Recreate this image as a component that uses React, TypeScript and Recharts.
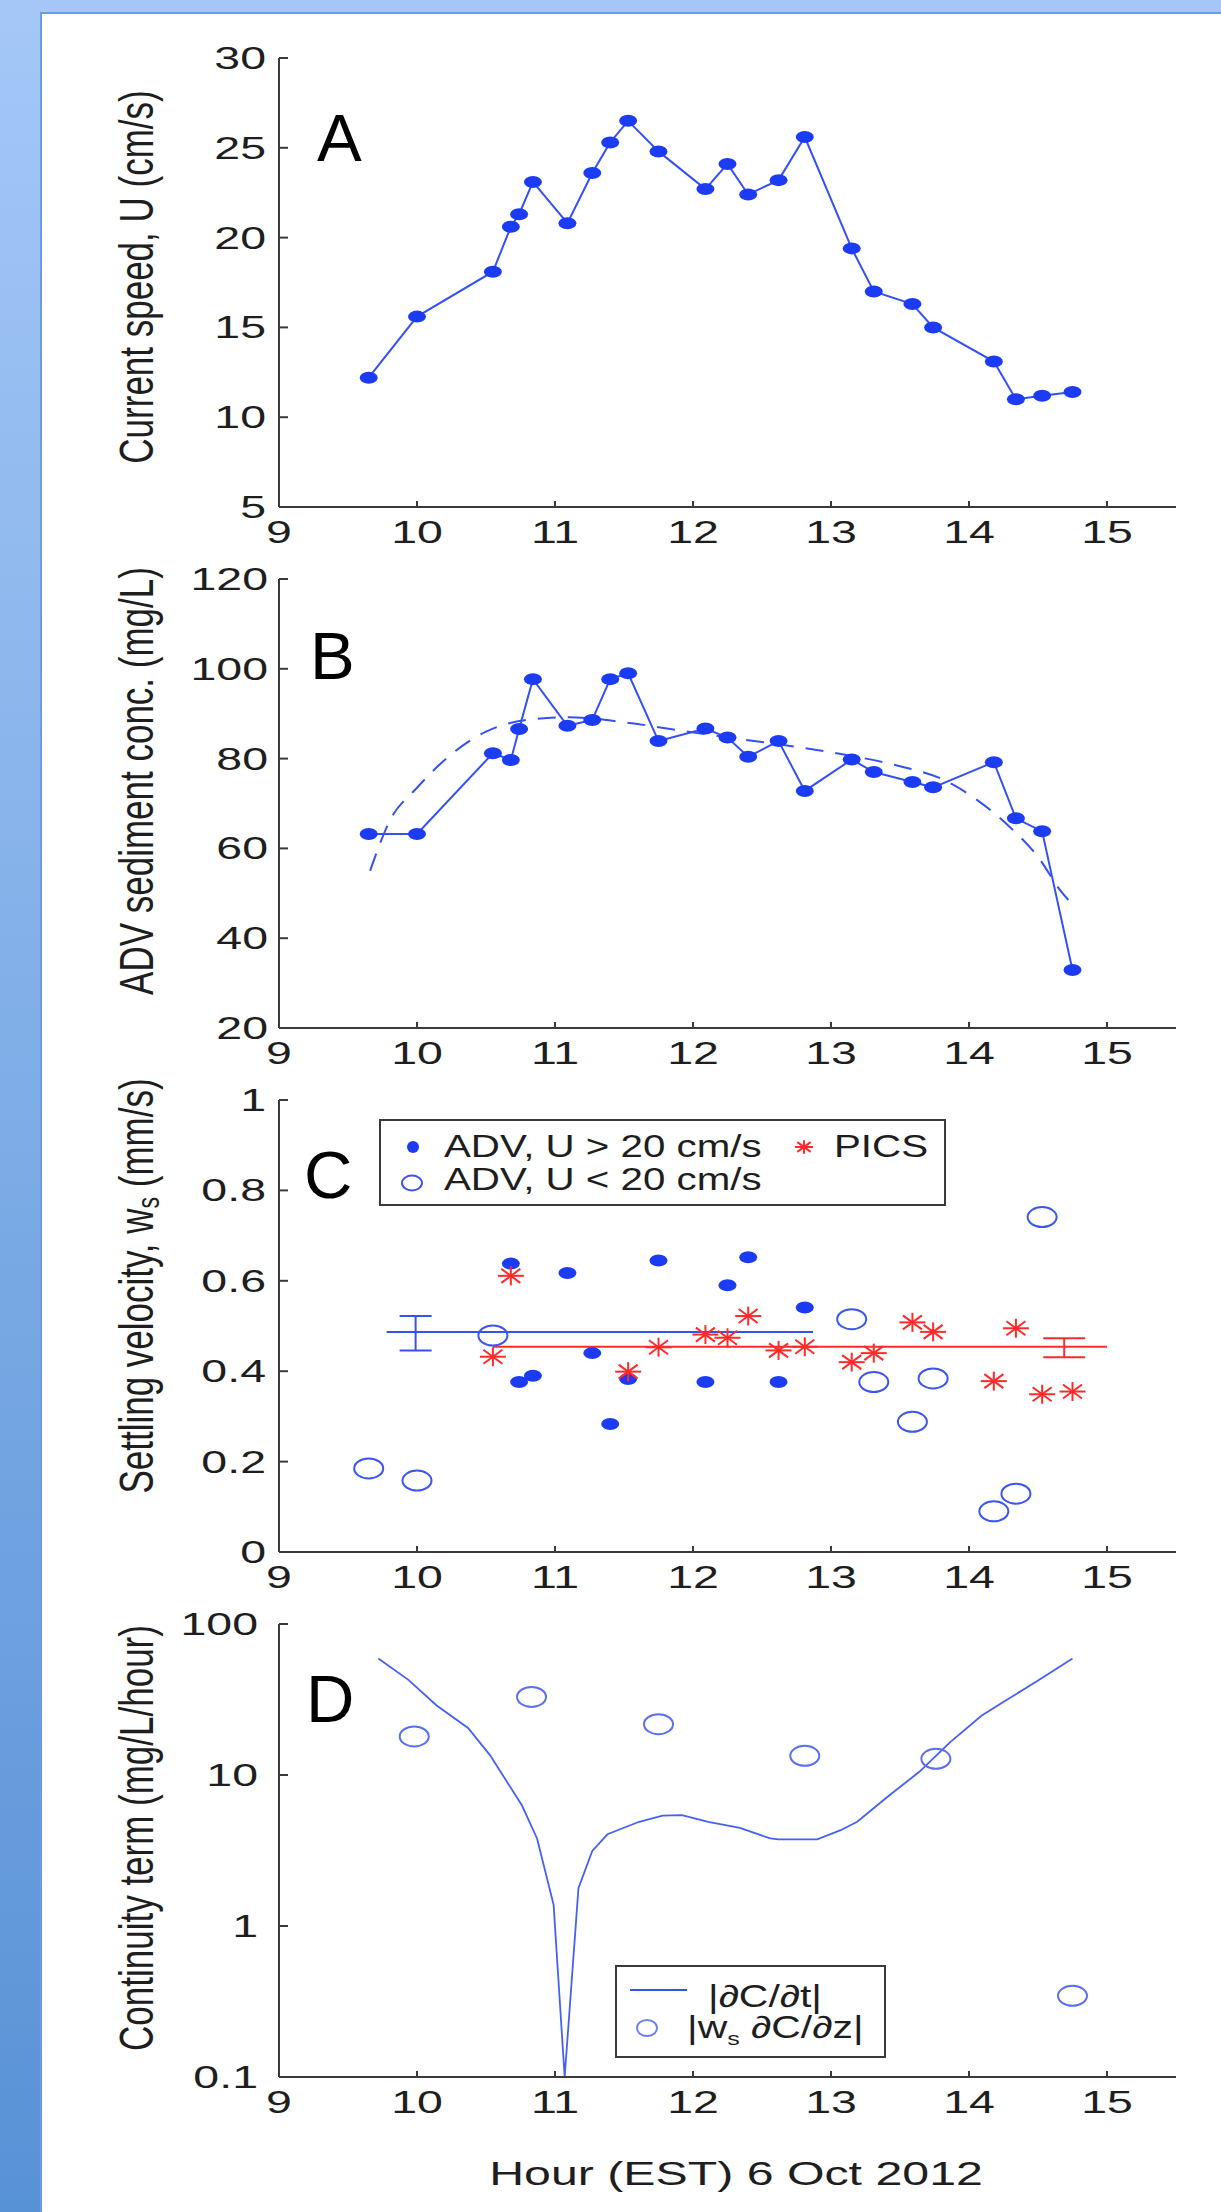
import React from "react";
import { ComposedChart, Line, Scatter, XAxis, YAxis, ErrorBar, Legend } from "recharts";

// shared sampling times (hour EST)
const hours = [9.65, 10.0, 10.55, 10.68, 10.74, 10.84, 11.09, 11.27, 11.4, 11.53, 11.75, 12.09, 12.25, 12.4, 12.62, 12.81, 13.15, 13.31, 13.59, 13.74, 14.18, 14.34, 14.53, 14.75];
// A: current speed (cm/s)
const speed = [12.2, 15.6, 18.1, 20.6, 21.3, 23.1, 20.8, 23.6, 25.3, 26.5, 24.8, 22.7, 24.1, 22.4, 23.2, 25.6, 19.4, 17.0, 16.3, 15.0, 13.1, 11.0, 11.2, 11.4];
// B: ADV sediment concentration (mg/L) and the dashed fit
const conc = [63.2, 63.2, 81.2, 79.7, 86.6, 97.7, 87.3, 88.6, 97.7, 99.0, 83.9, 86.7, 84.7, 80.4, 83.9, 72.8, 79.8, 77.0, 74.8, 73.6, 79.2, 66.7, 63.8, 32.9];
const fitHours = [9.66, 9.8, 10.0, 10.25, 10.5, 10.85, 11.1, 11.5, 11.9, 12.35, 12.62, 13.04, 13.5, 13.8, 14.03, 14.28, 14.5, 14.67, 14.72];
const fitConc = [55, 66, 73.5, 81, 86, 88.8, 89.2, 88.1, 86.3, 84.3, 83.2, 81.2, 78.3, 75.5, 71.4, 65.2, 58.1, 50.3, 48.5];
// C: settling velocity (mm/s)
const fastHours = [10.68, 10.74, 10.84, 11.09, 11.27, 11.4, 11.53, 11.75, 12.09, 12.25, 12.4, 12.62, 12.81];
const fastWs = [0.638, 0.376, 0.39, 0.617, 0.44, 0.283, 0.383, 0.645, 0.376, 0.59, 0.652, 0.376, 0.541];
const slowHours = [9.65, 10.0, 10.55, 13.15, 13.31, 13.59, 13.74, 14.18, 14.34, 14.53];
const slowWs = [0.185, 0.158, 0.479, 0.515, 0.376, 0.288, 0.384, 0.09, 0.129, 0.741];
const picsHours = [10.55, 10.68, 11.53, 11.75, 12.09, 12.25, 12.4, 12.62, 12.81, 13.15, 13.31, 13.59, 13.74, 14.18, 14.34, 14.53, 14.75];
const picsWs = [0.432, 0.611, 0.399, 0.453, 0.481, 0.474, 0.522, 0.446, 0.454, 0.42, 0.44, 0.508, 0.487, 0.378, 0.495, 0.349, 0.355];
const fastMeanHours = [9.78, 12.87];
const fastMean = [0.487, 0.487];
const picsMeanHours = [10.55, 15.0];
const picsMean = [0.454, 0.454];
const errHours = [9.99, 14.69];
const errMid = [0.487, 0.453];
const errLow = [0.446, 0.431];
const errHigh = [0.522, 0.473];
// D: continuity terms (mg/L/hour)
const rateHours = [9.72, 9.94, 10.14, 10.37, 10.53, 10.76, 10.87, 10.99, 11.07, 11.17, 11.27, 11.38, 11.61, 11.78, 11.92, 12.11, 12.34, 12.56, 12.62, 12.9, 13.07, 13.19, 13.41, 13.64, 13.86, 14.09, 14.26, 14.48, 14.6, 14.75];
const rate = [59, 42.5, 29, 20.5, 13.5, 6.3, 3.8, 1.38, 0.1, 1.78, 3.14, 4.05, 4.9, 5.39, 5.42, 4.9, 4.46, 3.8, 3.75, 3.75, 4.31, 4.9, 7.18, 10.5, 16.4, 24.7, 30.9, 41.1, 48.2, 59];
const fluxHours = [9.98, 10.83, 11.75, 12.81, 13.76, 14.75];
const flux = [18.0, 32.9, 21.7, 13.4, 12.8, 0.345];

// ticks
const hourTicks = [9, 10, 11, 12, 13, 14, 15];
const speedTicks = [5, 10, 15, 20, 25, 30];
const concTicks = [20, 40, 60, 80, 100, 120];
const wsTicks = [0, 0.2, 0.4, 0.6, 0.8, 1];
const logTicks = [0.1, 1, 10, 100];
const logMinor = [0.2, 0.3, 0.4, 0.5, 0.6, 0.7, 0.8, 0.9, 2, 3, 4, 5, 6, 7, 8, 9, 20, 30, 40, 50, 60, 70, 80, 90];

const FONT = "'Liberation Sans', Arial, Helvetica, sans-serif";
const INK = "#1e1e1e";
const FRAME = "#3a3a3a";
const BLUE = "#1b3cf4";
const BLUE_LINE = "#3551f3";
const RING = "#3d56f0";
const RED = "#ff2a2a";

const toPoints = (xs: number[], ys: number[]) => xs.map((h, i) => ({ h, v: ys[i] }));

const W = 1221;
const margin = (top: number) => ({ top, right: 45, bottom: 0, left: 199 });

function BottomTick({ x = 0, y = 0, payload }: any) {
  return (
    <g>
      <line x1={x} y1={y} x2={x} y2={y - 6} stroke={FRAME} strokeWidth={2} />
      <g transform={`translate(${x},${y + 36}) scale(1.5,1)`}>
        <text textAnchor="middle" fontSize={31} fontFamily={FONT} fill={INK}>{payload.value}</text>
      </g>
    </g>
  );
}

function TopTick({ x = 0, y = 0 }: any) {
  return <line x1={x} y1={y} x2={x} y2={y + 6} stroke={FRAME} strokeWidth={2} />;
}

const leftTick = (gap: number) => ({ x = 0, y = 0, payload }: any) => (
  <g>
    <line x1={x} y1={y} x2={x + 9} y2={y} stroke={FRAME} strokeWidth={2} />
    <g transform={`translate(${x - gap},${y + 11}) scale(1.5,1)`}>
      <text textAnchor="end" fontSize={31} fontFamily={FONT} fill={INK}>{String(payload.value)}</text>
    </g>
  </g>
);

const rightTick = (majors: number[]) => ({ x = 0, y = 0, payload }: any) => (
  <line x1={x} y1={y} x2={x - (majors.includes(payload.value) ? 9 : 5)} y2={y} stroke={FRAME} strokeWidth={majors.includes(payload.value) ? 2 : 1.5} />
);

// y title and panel letter, given in page coordinates and shifted by the chart's top
function SideTitle({ base, cy, letter, lx, ly, children }: any) {
  return (
    <g>
      <g transform={`translate(136,${cy - base}) scale(1.4,1) rotate(-90)`}>
        <text textAnchor="middle" dominantBaseline="central" fontSize={35} fontFamily={FONT} fill={INK}>{children}</text>
      </g>
      <text x={lx} y={ly - base} fontSize={67} fontFamily={FONT} fill="#000">{letter}</text>
    </g>
  );
}

function frame(domain: number[], ticks: number[], gap: number, title: React.ReactNode, opts: any = {}) {
  const axisLine = { stroke: FRAME, strokeWidth: 2 };
  return [
    <XAxis key="xb" type="number" dataKey="h" domain={[9, 15.5]} ticks={hourTicks} interval={0} height={opts.xHeight || 50}
      tickSize={0} tickMargin={0} tickLine={false} axisLine={axisLine} tick={BottomTick} allowDataOverflow
      label={opts.xLabel} />,
    <XAxis key="xt" xAxisId="t" orientation="top" type="number" domain={[9, 15.5]} ticks={hourTicks} interval={0} height={0}
      tickSize={0} tickMargin={0} tickLine={false} axisLine={axisLine} tick={TopTick} allowDataOverflow />,
    <YAxis key="yl" type="number" dataKey="v" domain={domain} ticks={ticks} interval={0} width={80} scale={opts.scale || "auto"}
      tickSize={0} tickMargin={0} tickLine={false} axisLine={axisLine} tick={leftTick(gap)} allowDataOverflow
      label={() => title} />,
    <YAxis key="yr" yAxisId="r" orientation="right" type="number" domain={domain} ticks={opts.rightTicks || ticks} interval={0} width={0}
      scale={opts.scale || "auto"} tickSize={0} tickMargin={0} tickLine={false} axisLine={axisLine} tick={rightTick(ticks)} allowDataOverflow />,
  ];
}

const dotShape = (p: any) => <ellipse key={`d${p.index}`} cx={p.cx} cy={p.cy} rx={9} ry={6} fill={BLUE} />;
const ringShape = (color: string) => (p: any) => <ellipse cx={p.cx} cy={p.cy} rx={14.5} ry={10} fill="none" stroke={color} strokeWidth={2} />;

function Star({ cx, cy, s = 1 }: any) {
  const w = 13 * s, h = 9.5 * s, dx = 9.5 * s, dy = 7 * s;
  return (
    <g stroke={RED} strokeWidth={2}>
      <line x1={cx - w} y1={cy} x2={cx + w} y2={cy} />
      <line x1={cx} y1={cy - h} x2={cx} y2={cy + h} />
      <line x1={cx - dx} y1={cy - dy} x2={cx + dx} y2={cy + dy} />
      <line x1={cx - dx} y1={cy + dy} x2={cx + dx} y2={cy - dy} />
    </g>
  );
}

function LegendC() {
  return (
    <svg width={567} height={87} style={{ display: "block" }}>
      <rect x={1} y={1} width={565} height={85} fill="#fff" stroke={FRAME} strokeWidth={2} />
      <ellipse cx={34} cy={28} rx={6} ry={6} fill={BLUE} />
      <g transform="translate(65,38) scale(1.3,1)">
        <text fontSize={31} fontFamily={FONT} fill={INK}>ADV, U &gt; 20 cm/s</text>
      </g>
      <Star cx={425} cy={28} s={0.7} />
      <g transform="translate(455,38) scale(1.3,1)">
        <text fontSize={31} fontFamily={FONT} fill={INK}>PICS</text>
      </g>
      <ellipse cx={33} cy={64} rx={10} ry={7.5} fill="none" stroke={RING} strokeWidth={2} />
      <g transform="translate(65,71) scale(1.3,1)">
        <text fontSize={31} fontFamily={FONT} fill={INK}>ADV, U &lt; 20 cm/s</text>
      </g>
    </svg>
  );
}

function LegendD() {
  return (
    <svg width={271} height={93} style={{ display: "block" }}>
      <rect x={1} y={1} width={269} height={91} fill="#fff" stroke={FRAME} strokeWidth={2} />
      <line x1={15} y1={25} x2={72} y2={25} stroke={BLUE_LINE} strokeWidth={2} />
      <g transform="translate(93,42) scale(1.32,1)">
        <text fontSize={31} fontFamily={FONT} fill={INK}>|∂C/∂t|</text>
      </g>
      <ellipse cx={32} cy={63} rx={10} ry={8} fill="none" stroke="#6f80f4" strokeWidth={2} />
      <g transform="translate(72,73) scale(1.32,1)">
        <text fontSize={31} fontFamily={FONT} fill={INK}>
          |w<tspan fontSize={19} dy={7}>s</tspan><tspan dy={-7}> ∂C/∂z|</tspan>
        </text>
      </g>
    </svg>
  );
}

const TOP_A = 38;
const TOP_B = 559;
const TOP_C = 1066;
const TOP_D = 1596;

function PanelA() {
  return (
    <ComposedChart width={W} height={519} margin={margin(20)}>
      {frame([5, 30], speedTicks, 13, <SideTitle base={TOP_A} cy={277} letter="A" lx={317} ly={161}>Current speed, U (cm/s)</SideTitle>)}
      <Line data={toPoints(hours, speed)} dataKey="v" type="linear" stroke={BLUE_LINE} strokeWidth={2} dot={dotShape} isAnimationActive={false} />
    </ComposedChart>
  );
}

function PanelB() {
  return (
    <ComposedChart width={W} height={519} margin={margin(20)}>
      {frame([20, 120], concTicks, 11, <SideTitle base={TOP_B} cy={781} letter="B" lx={310} ly={679}>ADV sediment conc. (mg/L)</SideTitle>)}
      <Line data={toPoints(fitHours, fitConc)} dataKey="v" type="monotone" stroke={BLUE_LINE} strokeWidth={2} strokeDasharray="18 12" dot={false} isAnimationActive={false} />
      <Line data={toPoints(hours, conc)} dataKey="v" type="linear" stroke={BLUE_LINE} strokeWidth={2} dot={dotShape} isAnimationActive={false} />
    </ComposedChart>
  );
}

function PanelC() {
  const errPoints = errHours.map((h, i) => ({ h, v: errMid[i], e: [errMid[i] - errLow[i], errHigh[i] - errMid[i]] }));
  return (
    <ComposedChart width={W} height={536} margin={margin(34)}>
      {frame([0, 1], wsTicks, 13, (
        <SideTitle base={TOP_C} cy={1286} letter="C" lx={304} ly={1198}>
          Settling velocity, w<tspan fontSize={23} dy={8}>s</tspan><tspan dy={-8}> (mm/s)</tspan>
        </SideTitle>
      ))}
      <Line data={toPoints(fastMeanHours, fastMean)} dataKey="v" stroke={BLUE_LINE} strokeWidth={2} dot={false} isAnimationActive={false} />
      <Line data={toPoints(picsMeanHours, picsMean)} dataKey="v" stroke={RED} strokeWidth={2} dot={false} isAnimationActive={false} />
      <Scatter data={[errPoints[0]]} dataKey="v" shape={() => <g />} isAnimationActive={false}>
        <ErrorBar dataKey="e" direction="y" width={16} stroke={BLUE_LINE} strokeWidth={2} isAnimationActive={false} />
      </Scatter>
      <Scatter data={[errPoints[1]]} dataKey="v" shape={() => <g />} isAnimationActive={false}>
        <ErrorBar dataKey="e" direction="y" width={21} stroke={RED} strokeWidth={2} isAnimationActive={false} />
      </Scatter>
      <Scatter data={toPoints(fastHours, fastWs)} dataKey="v" shape={dotShape} isAnimationActive={false} />
      <Scatter data={toPoints(slowHours, slowWs)} dataKey="v" shape={ringShape(RING)} isAnimationActive={false} />
      <Scatter data={toPoints(picsHours, picsWs)} dataKey="v" shape={(p: any) => <Star cx={p.cx} cy={p.cy} />} isAnimationActive={false} />
      <Legend content={() => <LegendC />} layout="vertical" align="center" verticalAlign="middle"
        wrapperStyle={{ left: 379, top: 1119 - TOP_C, width: 567, height: 87 }} />
    </ComposedChart>
  );
}

function PanelD() {
  const xLabel = () => (
    <g transform={`translate(736,${2185 - TOP_D}) scale(1.42,1)`}>
      <text textAnchor="middle" fontSize={34} fontFamily={FONT} fill={INK}>Hour (EST) 6 Oct 2012</text>
    </g>
  );
  return (
    <ComposedChart width={W} height={616} margin={margin(28)}>
      {frame([0.1, 100], logTicks, 21, <SideTitle base={TOP_D} cy={1838} letter="D" lx={306} ly={1722}>Continuity term (mg/L/hour)</SideTitle>,
        { scale: "log", rightTicks: [...logTicks, ...logMinor], xHeight: 135, xLabel })}
      <Line data={toPoints(rateHours, rate)} dataKey="v" type="linear" stroke="#4660f4" strokeWidth={1.8} dot={false} isAnimationActive={false} />
      <Scatter data={toPoints(fluxHours, flux)} dataKey="v" shape={ringShape("#5a6ff3")} isAnimationActive={false} />
      <Legend content={() => <LegendD />} layout="vertical" align="center" verticalAlign="middle"
        wrapperStyle={{ left: 615, top: 1965 - TOP_D, width: 271, height: 93 }} />
    </ComposedChart>
  );
}

export default function App() {
  const place = (top: number): React.CSSProperties => ({ position: "absolute", left: 0, top });
  return (
    <div style={{ position: "absolute", left: 0, top: 0, width: W, height: 2212, overflow: "hidden", background: "#a4c7f7" }}>
      <div style={{ position: "absolute", left: 0, top: 0, width: 40, height: 2212, background: "linear-gradient(#a4c7f7, #5892d6)" }} />
      <div style={{ position: "absolute", left: 40, top: 12, right: 0, bottom: 0, background: "#fff", borderLeft: "2px solid #6d9de0", borderTop: "2px solid #6d9de0" }} />
      <div style={place(TOP_A)}><PanelA /></div>
      <div style={place(TOP_B)}><PanelB /></div>
      <div style={place(TOP_C)}><PanelC /></div>
      <div style={place(TOP_D)}><PanelD /></div>
    </div>
  );
}
